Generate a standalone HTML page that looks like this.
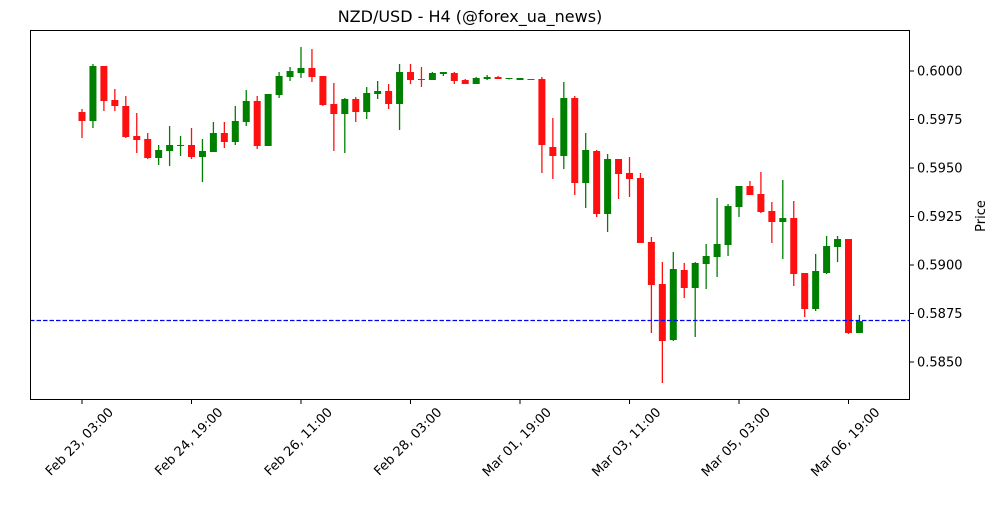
<!DOCTYPE html>
<html><head><meta charset="utf-8"><style>
body{margin:0;background:#fff;}
svg text{font-family:"DejaVu Sans","Liberation Sans",sans-serif;fill:#000;}
</style></head><body>
<svg id="s" width="1000" height="500" xmlns="http://www.w3.org/2000/svg">
<rect width="1000" height="500" fill="#fff"/>
<text x="470" y="22" font-size="16" text-anchor="middle">NZD/USD - H4 (@forex_ua_news)</text>
<g id="c"></g>
<line x1="30" y1="320.5" x2="910" y2="320.5" stroke="#0000ff" stroke-width="1.2" stroke-dasharray="4.5,2"/>
<rect x="30.5" y="30.5" width="879" height="369" fill="none" stroke="#000" stroke-width="1"/>
<g id="ax"></g>
<text transform="translate(985,216) rotate(-90)" font-size="13" text-anchor="middle">Price</text>
</svg>
<script>
var d=[
['r',112,121,109,138],['g',66,121,64,128],['r',66,101,66,111],['r',100,106,89,111],['r',106,137,96,138],
['r',136,140,113,153],['r',139,158,133,159],['g',150,158,145,165],['g',145,151,126,166],['g',145,146,136,156],
['r',145,157,128,159],['g',151,157,139,182],['g',133,152,122,152],['r',133,142,122,148],['g',121,142,106,145],
['g',101,122,90,126],['r',101,146,96,149],['g',94,146,94,146],['g',76,95,72,98],['g',71,77,67,81],
['g',68,73,47,78],['r',68,77,49,82],['r',76,105,76,106],['r',104,114,83,151],['g',99,114,98,153],
['r',99,112,97,122],['g',93,112,87,119],['g',91,94,81,99],['r',91,104,84,109],['g',72,104,64,130],
['r',72,80,64,84],['r',79,80,67,87],['g',73,80,72,80],['g',72,74,72,76],['r',73,81,72,84],
['r',80,84,79,84],['g',78,84,77,84],['g',77,79,75,80],['r',77,79,76,79],['g',78,79,78,79.5],
['g',78,80,78,80],['r',79,80,79,80],['r',79,145,77,173],['r',147,156,118,179],['g',98,156,82,169],
['r',98,183,96,195],['g',150,183,133,208],['r',151,214,150,217],['g',159,214,154,232],['r',159,174,159,199],
['r',173,179,157,197],['r',178,243,173,243],['r',242,285,237,333],['r',284,341,262,383],['g',269,340,252,341],
['r',270,288,263,298],['g',263,288,262,337],['g',256,264,244,289],['g',244,257,198,277],['g',206,245,204,256],
['g',186,207,186,217],['r',186,195,181,195],['r',194,212,172,213],['r',211,222,202,243],['g',218,222,180,259],
['r',218,274,201,286],['r',273,309,273,317],['g',271,309,254,311],['g',246,273,236,274],['g',239,247,236,262],
['r',239,333,239,334],['g',321,333,315,333]];
var h='';
d.forEach(function(c,i){var x=82+10.95*i;var col=c[0]=='r'?'#ff1010':'#008000';
h+='<line x1="'+x+'" x2="'+x+'" y1="'+c[3]+'" y2="'+c[4]+'" stroke="'+col+'" stroke-width="1.3"/>';
h+='<rect x="'+(x-3.5)+'" y="'+c[1]+'" width="7" height="'+Math.max(1,c[2]-c[1])+'" fill="'+col+'"/>';});
document.getElementById('c').innerHTML=h;
var a='';var yl=['0.6000','0.5975','0.5950','0.5925','0.5900','0.5875','0.5850'];
yl.forEach(function(t,i){var y=71+48.5*i;a+='<line x1="910" x2="914" y1="'+y+'" y2="'+y+'" stroke="#000"/><text x="917" y="'+(y+4.5)+'" font-size="13">'+t+'</text>';});
var xl=['Feb 23, 03:00','Feb 24, 19:00','Feb 26, 11:00','Feb 28, 03:00','Mar 01, 19:00','Mar 03, 11:00','Mar 05, 03:00','Mar 06, 19:00'];
xl.forEach(function(t,i){var x=82+109.5*i;a+='<line x1="'+x+'" x2="'+x+'" y1="400" y2="404" stroke="#000"/><text transform="translate('+(x+32)+',413) rotate(-45)" font-size="13" text-anchor="end">'+t+'</text>';});
document.getElementById('ax').innerHTML=a;
</script>
</body></html>
